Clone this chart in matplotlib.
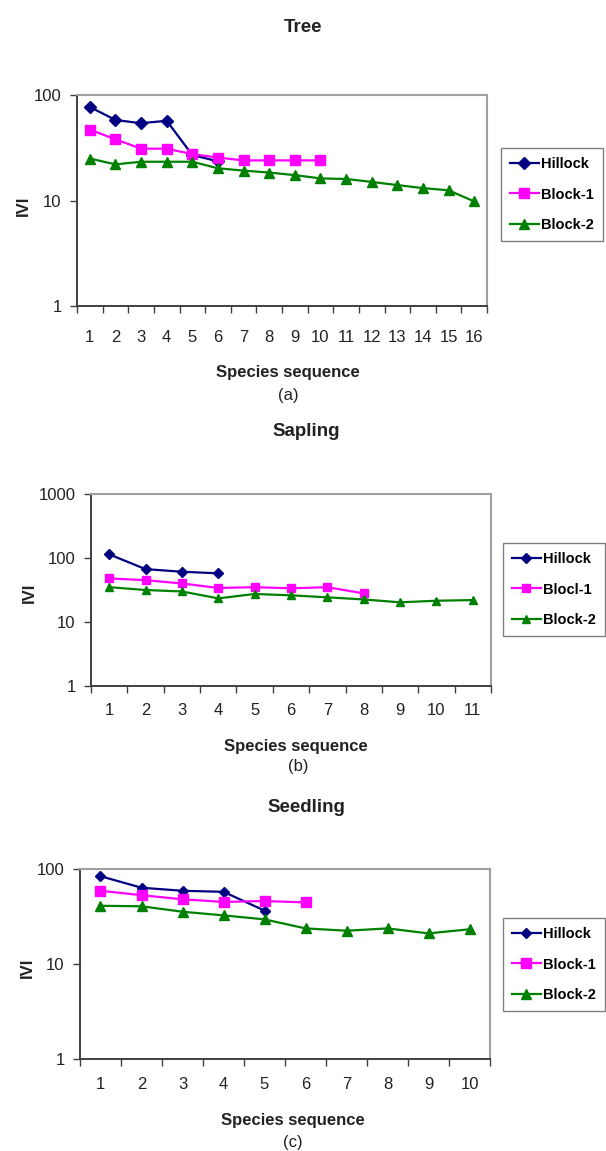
import numpy as np
import matplotlib
matplotlib.use("Agg")
import matplotlib.pyplot as plt
from matplotlib.ticker import FixedLocator, NullFormatter

plt.rcParams['font.family'] = ['Liberation Sans', 'DejaVu Sans']

W, H = 606, 1151

# Tree (a)
tree_hillock = [77, 58, 54, 57, 27, 23.5]
tree_block1 = [47, 38, 31, 31, 27.5, 25.5, 24, 24, 24, 24]
tree_block2 = [25, 22, 23.3, 23.3, 23.3, 20.2, 19.2, 18.4, 17.4, 16.2,
               16, 15, 14, 13.1, 12.5, 9.8]

# Sapling (b)
sapling_hillock = [114, 67, 61, 57.6]
sapling_block1 = [48, 45, 40, 34, 35, 33.6, 35, 28]
sapling_block2 = [35, 31.6, 30, 23.4, 27.4, 26.1, 24.3, 22.5, 20.3, 21.5, 22]

# Seedling (c)
seedling_hillock = [84, 63.5, 59, 57.5, 36.5]
seedling_block1 = [59, 53, 48, 45, 46, 44.5]
seedling_block2 = [41, 40.5, 35.5, 32.5, 29.5, 23.7, 22.4, 23.7, 21, 23.2]

series_names = ["Hillock", "Block-1", "Block-2"]
colors = ["#000080", "#ff00ff", "#008000"]
markers = ["D", "s", "^"]

fig = plt.figure(figsize=(W / 100, H / 100), dpi=100)
fig.patch.set_facecolor("white")


def px_axes(left, top, right, bottom):
    return fig.add_axes([left / W, 1 - bottom / H, (right - left) / W, (bottom - top) / H])


def ftext(x, y, s, **kw):
    fig.text(x / W, 1 - y / H, s, ha="center", va="center", **kw)


def panel(box, data, ncat, ymax, title, tpos, xlab, lpos, letter, cpos, ivi,
          legpos, labels, msize, xpad):
    ax = px_axes(*box)
    for vals, name, c, m in zip(data, labels, colors, markers):
        x = np.arange(1, len(vals) + 1)
        ms = msize - 1 if m == "D" else msize
        ax.plot(x, vals, color=c, lw=1.6, marker=m, ms=ms, mfc=c, mec=c, label=name)
    ax.set_yscale("log")
    ax.set_ylim(1, ymax)
    ax.set_xlim(0.5, ncat + 0.5)
    decades = [10 ** i for i in range(int(np.log10(ymax)) + 1)]
    ax.yaxis.set_major_locator(FixedLocator(decades))
    ax.set_yticklabels([str(d) for d in decades])
    ax.yaxis.set_minor_locator(FixedLocator([]))
    ax.yaxis.set_minor_formatter(NullFormatter())
    ax.set_xticks(np.arange(1, ncat + 1))
    ax.set_xticklabels([str(i) for i in range(1, ncat + 1)])
    ax.xaxis.set_minor_locator(FixedLocator(np.arange(0.5, ncat + 1, 1)))
    ax.tick_params(axis="x", which="major", length=0, pad=xpad, labelsize=12, labelcolor="#222222")
    ax.tick_params(axis="x", which="minor", length=5, width=1, color="#404040", direction="out")
    ax.tick_params(axis="y", which="major", length=5, width=1, color="#404040", direction="out",
                   pad=6, labelsize=12, labelcolor="#222222")
    for s in ["left", "bottom"]:
        ax.spines[s].set_color("#404040")
        ax.spines[s].set_linewidth(1.4)
    for s in ["top", "right"]:
        ax.spines[s].set_color("#a0a0a0")
        ax.spines[s].set_linewidth(1.5)
    ax.legend(loc="upper left", bbox_to_anchor=(legpos[0] / W, 1 - legpos[1] / H),
              bbox_transform=fig.transFigure, frameon=True, fancybox=False,
              edgecolor="#808080", prop={"size": 10.5, "weight": "bold"},
              handlelength=2.0, handletextpad=0.15, labelspacing=1.15,
              borderpad=0.6, borderaxespad=0, framealpha=1)
    ax.get_legend().get_frame().set_linewidth(1.0)
    ftext(*tpos, title, fontsize=13.5, fontweight="bold", color="#222222")
    ftext(*lpos, xlab, fontsize=12, fontweight="bold", color="#222222")
    ftext(*cpos, letter, fontsize=12, color="#222222")
    ftext(*ivi, "IVI", fontsize=12, fontweight="bold", rotation=90, color="#222222")
    return ax


panel((77, 95, 487, 306), [tree_hillock, tree_block1, tree_block2], 16, 100,
      "Tree", (303, 27), "Species sequence", (288, 373), "(a)", (288, 396),
      (23, 206), (501, 148), series_names, 7.5, 17)

panel((91, 494, 491, 686), [sapling_hillock, sapling_block1, sapling_block2], 11, 1000,
      "Sapling", (306, 432), "Species sequence", (296, 747), "(b)", (298, 767),
      (29, 593), (503, 543), ["Hillock", "Blocl-1", "Block-2"], 6, 12)

panel((80, 869, 490, 1059), [seedling_hillock, seedling_block1, seedling_block2], 10, 100,
      "Seedling", (306, 807), "Species sequence", (293, 1120), "(c)", (293, 1142),
      (27, 968), (503, 918), series_names, 6.5, 13)

fig.savefig("out.png", dpi=100, facecolor="white")
